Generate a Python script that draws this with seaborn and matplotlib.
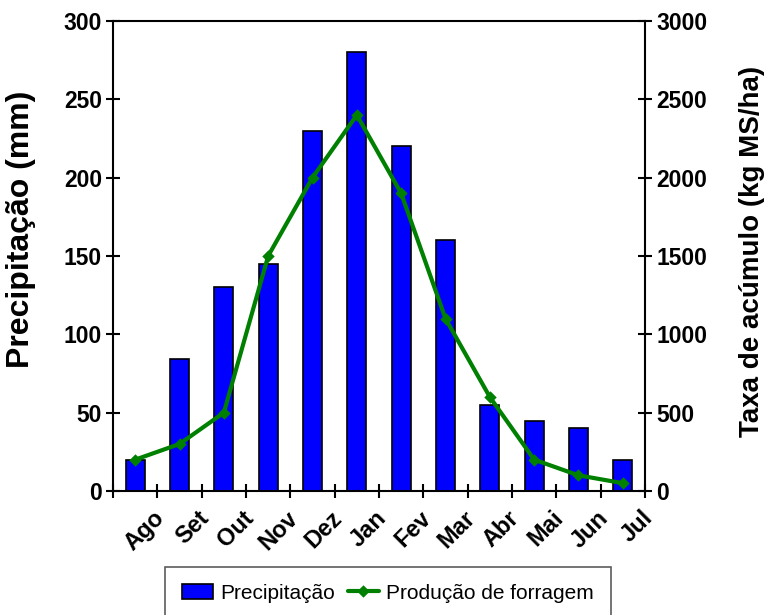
import matplotlib
matplotlib.use("Agg")
import matplotlib.pyplot as plt
import matplotlib.transforms as mtransforms
import seaborn as sns
import pandas as pd
import numpy as np

months = ["Ago", "Set", "Out", "Nov", "Dez", "Jan", "Fev", "Mar", "Abr", "Mai", "Jun", "Jul"]
precip = [20, 84, 130, 145, 230, 280, 220, 160, 55, 45, 40, 20]
forragem = [200, 300, 500, 1500, 2000, 2400, 1900, 1100, 600, 200, 100, 50]

df = pd.DataFrame({"mes": months, "precip": precip, "forragem": forragem})

sns.set_theme(style="white")
plt.rcParams["font.family"] = ["Liberation Sans", "DejaVu Sans"]
for k in ["text.color", "axes.labelcolor", "xtick.color", "ytick.color"]:
    plt.rcParams[k] = "black"

fig = plt.figure(figsize=(7.66, 6.15), dpi=100)
ax = fig.add_axes([113/766, 1-491/615, (645-113)/766, (491-21)/615])

sns.barplot(data=df, x="mes", y="precip", order=months, color="#0000FF",
            saturation=1, width=0.43, edgecolor="black", linewidth=1.2, ax=ax,
            label="Precipitação")
ax2 = ax.twinx()
sns.pointplot(data=df, x="mes", y="forragem", order=months, color="#008000",
              marker="D", markersize=4, linewidth=3, ax=ax2,
              label="Produção de forragem")

ax.set_xlim(-0.5, 11.5)
ax.set_ylim(0, 300)
ax2.set_ylim(0, 3000)
ax.set_yticks(np.arange(0, 301, 50))
ax2.set_yticks(np.arange(0, 3001, 500))

for a in (ax, ax2):
    for s in a.spines.values():
        s.set_visible(False)
ax.spines["left"].set_visible(True)
ax.spines["bottom"].set_visible(True)
ax.spines["top"].set_visible(True)
ax2.spines["right"].set_visible(True)
for a in (ax, ax2):
    for s in a.spines.values():
        s.set_color("black")
        s.set_linewidth(1.5)

ax.set_xticks(range(12))
ax.set_xticks(np.arange(-0.5, 12, 1), minor=True)
ax.tick_params(axis="x", which="major", length=0, pad=17)
ax.tick_params(axis="x", which="minor", direction="inout", length=10, width=1.5, color="black", bottom=True)
ax.tick_params(axis="y", direction="inout", length=10, width=1.5, color="black", left=True, pad=3)
ax2.tick_params(axis="y", direction="inout", length=10, width=1.5, color="black", right=True, pad=3)

ax.set_xticklabels(months, rotation=45, ha="right", va="center", rotation_mode="anchor",
                   fontsize=17, fontweight="bold")
offset = mtransforms.ScaledTranslation(0.26, 0, fig.dpi_scale_trans)
for lbl in ax.get_xticklabels():
    lbl.set_transform(lbl.get_transform() + offset)
for lbl in ax.get_yticklabels():
    lbl.set_fontsize(16.5)
    lbl.set_fontweight("bold")
for lbl in ax2.get_yticklabels():
    lbl.set_fontsize(16.5)
    lbl.set_fontweight("bold")

ax.set_xlabel("")
ax.set_ylabel("Precipitação (mm)", fontsize=23, fontweight="bold", va="bottom")
ax2.set_ylabel("Taxa de acúmulo (kg MS/ha)", fontsize=20, fontweight="bold", va="top")
ax.yaxis.set_label_coords(-(113 - 36) / 532, (491 - 229) / 470)
ax2.yaxis.set_label_coords((739 - 113) / 532, (491 - 251) / 470)
ax.yaxis.label.set_ha("center")
ax2.yaxis.label.set_ha("center")

h1, l1 = ax.get_legend_handles_labels()
h2, l2 = ax2.get_legend_handles_labels()
if ax2.get_legend() is not None:
    ax2.get_legend().remove()
if ax.get_legend() is not None:
    ax.get_legend().remove()
leg = fig.legend(h1 + h2, l1 + l2, loc="upper center", bbox_to_anchor=(388/766, 1-567/615),
                 ncol=2, fontsize=15, frameon=True, fancybox=False, edgecolor="#333333",
                 handlelength=1.5, handletextpad=0.35, columnspacing=0.6, borderpad=0.8,
                 borderaxespad=0)
leg.get_frame().set_linewidth(1.2)

fig.savefig("out.png", dpi=100)
